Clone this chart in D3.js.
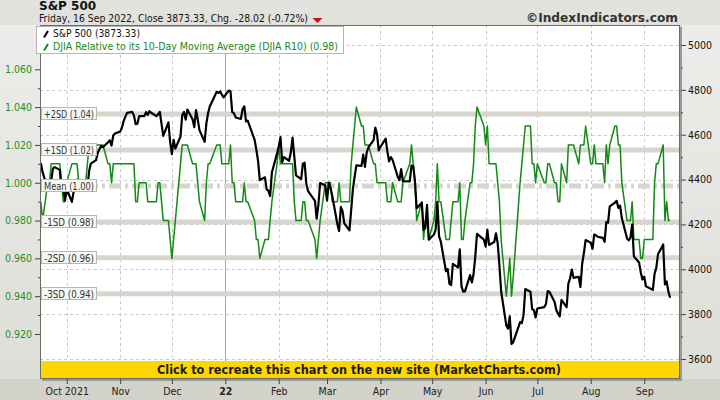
<!DOCTYPE html>
<html><head><meta charset="utf-8">
<script src="https://cdn.jsdelivr.net/npm/d3@7"></script>
<style>body{margin:0;background:#dcdcd6}svg{display:block}</style>
</head><body><svg id="c" width="720" height="400"></svg>
<script>
const dates = [
"2021-09-16","2021-09-17","2021-09-20","2021-09-21","2021-09-22","2021-09-23","2021-09-24","2021-09-27","2021-09-28","2021-09-29","2021-09-30",
"2021-10-01","2021-10-04","2021-10-05","2021-10-06","2021-10-07","2021-10-08","2021-10-11","2021-10-12","2021-10-13","2021-10-14","2021-10-15","2021-10-18","2021-10-19","2021-10-20","2021-10-21","2021-10-22","2021-10-25","2021-10-26","2021-10-27","2021-10-28","2021-10-29",
"2021-11-01","2021-11-02","2021-11-03","2021-11-04","2021-11-05","2021-11-08","2021-11-09","2021-11-10","2021-11-11","2021-11-12","2021-11-15","2021-11-16","2021-11-17","2021-11-18","2021-11-19","2021-11-22","2021-11-23","2021-11-24","2021-11-26","2021-11-29","2021-11-30",
"2021-12-01","2021-12-02","2021-12-03","2021-12-06","2021-12-07","2021-12-08","2021-12-09","2021-12-10","2021-12-13","2021-12-14","2021-12-15","2021-12-16","2021-12-17","2021-12-20","2021-12-21","2021-12-22","2021-12-23","2021-12-27","2021-12-28","2021-12-29","2021-12-30","2021-12-31",
"2022-01-03","2022-01-04","2022-01-05","2022-01-06","2022-01-07","2022-01-10","2022-01-11","2022-01-12","2022-01-13","2022-01-14","2022-01-18","2022-01-19","2022-01-20","2022-01-21","2022-01-24","2022-01-25","2022-01-26","2022-01-27","2022-01-28","2022-01-31",
"2022-02-01","2022-02-02","2022-02-03","2022-02-04","2022-02-07","2022-02-08","2022-02-09","2022-02-10","2022-02-11","2022-02-14","2022-02-15","2022-02-16","2022-02-17","2022-02-18","2022-02-22","2022-02-23","2022-02-24","2022-02-25","2022-02-28",
"2022-03-01","2022-03-02","2022-03-03","2022-03-04","2022-03-07","2022-03-08","2022-03-09","2022-03-10","2022-03-11","2022-03-14","2022-03-15","2022-03-16","2022-03-17","2022-03-18","2022-03-21","2022-03-22","2022-03-23","2022-03-24","2022-03-25","2022-03-28","2022-03-29","2022-03-30","2022-03-31",
"2022-04-01","2022-04-04","2022-04-05","2022-04-06","2022-04-07","2022-04-08","2022-04-11","2022-04-12","2022-04-13","2022-04-14","2022-04-18","2022-04-19","2022-04-20","2022-04-21","2022-04-22","2022-04-25","2022-04-26","2022-04-27","2022-04-28","2022-04-29",
"2022-05-02","2022-05-03","2022-05-04","2022-05-05","2022-05-06","2022-05-09","2022-05-10","2022-05-11","2022-05-12","2022-05-13","2022-05-16","2022-05-17","2022-05-18","2022-05-19","2022-05-20","2022-05-23","2022-05-24","2022-05-25","2022-05-26","2022-05-27","2022-05-31",
"2022-06-01","2022-06-02","2022-06-03","2022-06-06","2022-06-07","2022-06-08","2022-06-09","2022-06-10","2022-06-13","2022-06-14","2022-06-15","2022-06-16","2022-06-17","2022-06-21","2022-06-22","2022-06-23","2022-06-24","2022-06-27","2022-06-28","2022-06-29","2022-06-30",
"2022-07-01","2022-07-05","2022-07-06","2022-07-07","2022-07-08","2022-07-11","2022-07-12","2022-07-13","2022-07-14","2022-07-15","2022-07-18","2022-07-19","2022-07-20","2022-07-21","2022-07-22","2022-07-25","2022-07-26","2022-07-27","2022-07-28","2022-07-29",
"2022-08-01","2022-08-02","2022-08-03","2022-08-04","2022-08-05","2022-08-08","2022-08-09","2022-08-10","2022-08-11","2022-08-12","2022-08-15","2022-08-16","2022-08-17","2022-08-18","2022-08-19","2022-08-22","2022-08-23","2022-08-24","2022-08-25","2022-08-26","2022-08-29","2022-08-30","2022-08-31",
"2022-09-01","2022-09-02","2022-09-06","2022-09-07","2022-09-08","2022-09-09","2022-09-12","2022-09-13","2022-09-14","2022-09-15","2022-09-16"];

const spx = [
4473.75,4432.99,4357.73,4354.19,4395.64,4448.98,4455.48,4443.11,4352.63,4359.46,4307.54,
4357.04,4300.46,4345.72,4363.55,4399.76,4391.34,4361.19,4350.65,4363.80,4438.26,4471.37,4486.46,4519.63,4536.19,4549.78,4544.90,4566.48,4574.79,4551.68,4596.42,4605.38,
4613.67,4630.65,4660.57,4680.06,4697.53,4701.70,4685.25,4646.71,4649.27,4682.85,4682.80,4700.90,4688.67,4704.54,4697.96,4682.94,4690.70,4701.46,4594.62,4655.27,4567.00,
4513.04,4577.10,4538.43,4591.67,4686.75,4701.21,4667.45,4712.02,4668.97,4634.09,4709.85,4668.67,4620.64,4568.02,4649.23,4696.56,4725.79,4791.19,4786.35,4793.06,4778.73,4766.18,
4796.56,4793.54,4700.58,4696.05,4677.03,4670.29,4713.07,4726.35,4659.03,4662.85,4577.11,4532.76,4482.73,4397.94,4410.13,4356.45,4349.93,4326.51,4431.85,4515.55,
4546.54,4589.38,4477.44,4500.53,4483.87,4521.54,4587.18,4504.08,4418.64,4401.67,4471.07,4475.01,4380.26,4348.87,4304.76,4225.50,4288.70,4384.65,4373.94,
4306.26,4386.54,4363.49,4328.87,4201.09,4170.70,4277.88,4259.52,4204.31,4173.11,4262.45,4357.86,4411.67,4463.12,4461.18,4511.61,4456.24,4520.16,4543.06,4575.52,4631.60,4602.45,4530.41,
4545.86,4582.64,4525.12,4481.15,4500.21,4488.28,4412.53,4397.45,4446.59,4392.59,4391.69,4462.21,4459.45,4393.66,4271.78,4296.12,4175.20,4183.96,4287.50,4131.93,
4155.38,4175.48,4300.17,4146.87,4123.34,3991.24,4001.05,3935.18,3930.08,4023.89,4008.01,4088.85,3923.68,3900.79,3901.36,3973.75,3941.48,3978.73,4057.84,4158.24,4132.15,
4101.23,4176.82,4108.54,4121.43,4160.68,4115.77,4017.82,3900.86,3749.63,3735.48,3789.99,3666.77,3674.84,3764.79,3759.89,3795.73,3911.74,3900.11,3821.55,3818.83,3785.38,
3825.33,3831.39,3845.08,3902.62,3899.38,3854.43,3818.80,3801.78,3790.38,3863.16,3830.85,3936.69,3959.90,3998.95,3961.63,3966.84,3921.05,4023.61,4072.43,4130.29,
4118.63,4091.19,4155.17,4151.94,4145.19,4140.06,4122.47,4210.24,4207.27,4280.15,4297.14,4305.20,4274.04,4283.74,4228.48,4137.99,4128.73,4140.77,4199.12,4057.66,4030.61,3986.16,3955.00,
3966.85,3924.26,3908.19,3979.87,4006.18,4067.36,4110.41,3932.69,3946.01,3901.35,3873.33];

const r10 = [
0.99,0.98,1.00,1.00,1.01,1.01,1.01,1.01,1.00,0.99,0.99,
1.00,1.01,1.01,1.01,1.01,1.00,1.00,1.00,1.01,1.02,1.02,1.02,1.02,1.02,1.02,1.02,1.01,1.01,1.00,1.01,1.01,
1.01,1.01,1.01,1.01,1.01,1.01,1.01,0.99,0.99,1.00,1.00,1.00,0.99,0.99,0.99,0.99,1.00,1.00,0.98,0.98,0.97,
0.96,0.97,0.98,1.01,1.02,1.02,1.02,1.02,1.01,1.01,1.01,1.00,0.99,0.98,1.00,1.01,1.01,1.02,1.02,1.02,1.01,1.01,
1.01,1.02,1.00,1.00,0.99,0.99,0.99,1.00,0.99,0.99,0.98,0.97,0.97,0.96,0.97,0.97,0.97,0.98,0.99,1.01,
1.02,1.01,1.01,1.01,1.01,1.01,1.01,0.99,0.98,0.98,0.99,0.99,0.98,0.98,0.97,0.96,0.97,0.98,1.00,
1.00,1.00,1.00,0.99,0.99,1.00,0.99,0.99,0.99,0.99,1.01,1.02,1.03,1.04,1.03,1.03,1.02,1.02,1.02,1.01,1.01,1.00,1.00,
1.00,1.00,0.99,0.99,0.99,1.00,0.99,0.99,0.99,1.00,1.01,1.02,1.01,1.00,0.98,0.99,0.97,0.98,0.98,0.97,
0.98,0.99,1.01,0.99,0.99,0.97,0.97,0.97,0.98,0.99,0.99,1.00,0.97,0.97,0.98,1.00,1.00,1.01,1.03,1.04,1.03,
1.02,1.03,1.01,1.01,1.01,1.00,0.99,0.97,0.94,0.95,0.96,0.94,0.95,1.00,1.01,1.02,1.03,1.03,1.01,1.01,1.00,
1.01,1.00,1.00,1.01,1.01,1.00,1.00,0.99,0.99,1.01,1.00,1.02,1.02,1.02,1.02,1.01,1.02,1.02,1.02,1.03,
1.01,1.01,1.02,1.01,1.01,1.01,1.00,1.02,1.01,1.02,1.03,1.03,1.02,1.02,1.00,0.98,0.98,0.98,0.99,0.97,0.97,0.96,0.96,
0.97,0.97,0.97,1.00,1.01,1.01,1.02,0.98,0.99,0.98,0.98];

const monthTicks = ["2021-10-01","2021-11-01","2021-12-01","2022-01-01","2022-02-01","2022-03-01","2022-04-01","2022-05-01","2022-06-01","2022-07-01","2022-08-01","2022-09-01"];
const monthLabels = ["Oct 2021","Nov","Dec","22","Feb","Mar","Apr","May","Jun","Jul","Aug","Sep"];
const leftTicks = [0.92,0.94,0.96,0.98,1.00,1.02,1.04,1.06];
const leftMinor = [0.93,0.95,0.97,0.99,1.01,1.03,1.05];
const rightTicks = [3600,3800,4000,4200,4400,4600,4800,5000];
const rightMinor = [3700,3900,4100,4300,4500,4700,4900];
const sdLabels = ["+2SD (1.04)","+1SD (1.02)","Mean (1.00)","-1SD (0.98)","-2SD (0.96)","-3SD (0.94)"];
const sdValues = [1.0363,1.0173,0.9983,0.9793,0.9603,0.9413];
const titleText = "S&P 500";
const subtitleText = "Friday, 16 Sep 2022, Close 3873.33, Chg. -28.02 (-0.72%)";
const legendLabels = ["S&P 500 (3873.33)","DJIA Relative to its 10-Day Moving Average (DJIA R10) (0.98)"];

const parse = d3.timeParse("%Y-%m-%d");
const pts = dates.map((d,i)=>({t:parse(d), p:spx[i], r:r10[i]}));

const W=720,H=400, L=40,R=680,T=25,B=379;
const FONT = "'DejaVu Sans Condensed','DejaVu Sans',sans-serif";
const svg = d3.select("#c");
const defs = svg.append("defs");
const bg = defs.append("linearGradient").attr("id","bg").attr("x1",0).attr("y1",0).attr("x2",0).attr("y2",1);
bg.append("stop").attr("offset","0%").attr("stop-color","#e2e2de");
bg.append("stop").attr("offset","100%").attr("stop-color","#d2d2ca");
const side = defs.append("linearGradient").attr("id","side").attr("x1",0).attr("y1",0).attr("x2",0).attr("y2",1);
side.append("stop").attr("offset","0%").attr("stop-color","#ececea");
side.append("stop").attr("offset","100%").attr("stop-color","#deded8");
defs.append("clipPath").attr("id","clip").append("rect").attr("x",L).attr("y",T).attr("width",R-L).attr("height",B-T);

svg.append("rect").attr("width",W).attr("height",H).attr("fill","url(#bg)");
svg.append("rect").attr("x",0).attr("y",T).attr("width",L).attr("height",B-T).attr("fill","url(#side)");
svg.append("rect").attr("x",R+2).attr("y",T).attr("width",W-R-2).attr("height",B-T).attr("fill","url(#side)");

const x = d3.scaleTime().domain([new Date(2021,8,15,12), new Date(2022,8,21,18)]).range([L,R]);
const yL = d3.scaleLinear().domain([0.92,1.06]).range([334,69.3]);
const yR = d3.scaleLinear().domain([3600,5000]).range([359,45]);

// shadow + plot bg
svg.append("rect").attr("x",L+2).attr("y",T+2).attr("width",R-L).attr("height",B-T).attr("fill","#9a9a96");
svg.append("rect").attr("x",L).attr("y",T).attr("width",R-L).attr("height",B-T).attr("fill","#fff");

const plot = svg.append("g").attr("clip-path","url(#clip)");
// grid
plot.selectAll(".hg").data(rightTicks).join("line")
  .attr("x1",L).attr("x2",R).attr("y1",d=>Math.round(yR(d))+0.5).attr("y2",d=>Math.round(yR(d))+0.5)
  .attr("stroke","#c9c9c9").attr("stroke-dasharray","3,3");
plot.selectAll(".vg").data(monthTicks.map(parse)).join("line")
  .attr("x1",d=>Math.round(x(d))+0.5).attr("x2",d=>Math.round(x(d))+0.5).attr("y1",T).attr("y2",B)
  .attr("stroke",(d,i)=>monthLabels[i]==="22"?"#a8a8a8":"#c9c9c9")
  .attr("stroke-dasharray",(d,i)=>monthLabels[i]==="22"?null:"3,3");
// SD bands
plot.selectAll(".sd").data(sdValues).join("line")
  .attr("x1",L).attr("x2",R).attr("y1",d=>yL(d)).attr("y2",d=>yL(d))
  .attr("stroke","#d6d6ce").attr("stroke-width",5)
  .attr("stroke-dasharray",(d,i)=>sdLabels[i].startsWith("Mean")?"12,4,3,4":null);

// series
plot.append("path").datum(pts).attr("fill","none").attr("stroke","#138a13").attr("stroke-width",1.5)
  .attr("stroke-linejoin","round")
  .attr("d",d3.line().x(d=>x(d.t)).y(d=>yL(d.r)));
plot.append("path").datum(pts).attr("fill","none").attr("stroke","#000").attr("stroke-width",2.2)
  .attr("stroke-linejoin","round")
  .attr("d",d3.line().x(d=>x(d.t)).y(d=>yR(d.p)));

// SD labels
const sdg = svg.append("g");
sdValues.forEach((v,i)=>{
  const y = yL(v);
  sdg.append("rect").attr("x",41.5).attr("y",Math.round(y)-6.5).attr("width",55).attr("height",12)
    .attr("fill","#f7f7f4").attr("stroke","#b8b8b0");
  sdg.append("text").attr("x",44).attr("y",Math.round(y)+3.5).attr("font-family",FONT).attr("font-size",10)
    .attr("fill","#333").attr("textLength",50).attr("lengthAdjust","spacingAndGlyphs").text(sdLabels[i]);
});

// banner
svg.append("rect").attr("x",L+1).attr("y",361).attr("width",R-L-1).attr("height",B-361).attr("fill","#ffd700");
svg.append("text").attr("x",157).attr("y",373.5).attr("font-family","'DejaVu Sans',sans-serif").attr("font-weight","bold")
  .attr("font-size",12).attr("fill","#1a1a1a").attr("textLength",404).attr("lengthAdjust","spacingAndGlyphs")
  .text("Click to recreate this chart on the new site (MarketCharts.com)");

// plot border
svg.append("rect").attr("x",L+0.5).attr("y",T+0.5).attr("width",R-L-1).attr("height",B-T-1)
  .attr("fill","none").attr("stroke","#6a6a6a");

// axes
const styleAxis = g=>{ g.select(".domain").remove(); g.selectAll("line").attr("stroke","#444"); g.selectAll("text").attr("font-family",FONT).attr("font-size",10.5); };
svg.append("g").attr("transform",`translate(${L},0)`)
  .call(d3.axisLeft(yL).tickValues(leftTicks).tickFormat(d3.format(".3f")).tickSize(5).tickPadding(3))
  .call(styleAxis).call(g=>g.selectAll("text").attr("fill","#1f8f1f"));
svg.append("g").attr("transform",`translate(${L},0)`)
  .call(d3.axisLeft(yL).tickValues(leftMinor).tickFormat("").tickSize(2)).call(styleAxis);
svg.append("g").attr("transform",`translate(${R+1},0)`)
  .call(d3.axisRight(yR).tickValues(rightTicks).tickFormat(d3.format("d")).tickSize(5).tickPadding(2))
  .call(styleAxis).call(g=>g.selectAll("text").attr("fill","#111"));
svg.append("g").attr("transform",`translate(${R+1},0)`)
  .call(d3.axisRight(yR).tickValues(rightMinor).tickFormat("").tickSize(2)).call(styleAxis);
svg.append("g").attr("transform",`translate(0,${B})`)
  .call(d3.axisBottom(x).tickValues(monthTicks.map(parse)).tickFormat((d,i)=>monthLabels[i]).tickSize(5).tickPadding(4))
  .call(styleAxis).call(g=>g.selectAll("text").attr("fill","#222").attr("font-weight",(d,i)=>monthLabels[i]==="22"?"bold":null));

// header
svg.append("text").attr("x",39).attr("y",9.8).attr("font-family","'DejaVu Sans',sans-serif").attr("font-weight","bold")
  .attr("font-size",12).attr("fill","#111").text(titleText);
svg.append("text").attr("x",39).attr("y",22).attr("font-family",FONT).attr("font-size",10)
  .attr("fill","#111").attr("textLength",269).attr("lengthAdjust","spacingAndGlyphs").text(subtitleText);
svg.append("path").attr("d","M312.5,18 L322.5,18 L317.5,23 Z").attr("fill","#cc1111");
svg.append("text").attr("x",678).attr("y",21.5).attr("text-anchor","end").attr("font-family","'DejaVu Sans',sans-serif")
  .attr("font-weight","bold").attr("font-size",12).attr("fill","#333").attr("textLength",152).attr("lengthAdjust","spacingAndGlyphs")
  .text("©IndexIndicators.com");

// legend
svg.append("rect").attr("x",36.5).attr("y",26.5).attr("width",307).attr("height",27).attr("fill","#fff").attr("stroke","#b4b4b4");
svg.append("line").attr("x1",44).attr("y1",37.5).attr("x2",48).attr("y2",31).attr("stroke","#000").attr("stroke-width",2);
svg.append("line").attr("x1",44).attr("y1",50.5).attr("x2",48).attr("y2",44).attr("stroke","#138a13").attr("stroke-width",2);
svg.append("text").attr("x",53).attr("y",37).attr("font-family",FONT).attr("font-size",10.5).attr("fill","#111")
  .attr("textLength",87).attr("lengthAdjust","spacingAndGlyphs").text(legendLabels[0]);
svg.append("text").attr("x",53).attr("y",49.5).attr("font-family",FONT).attr("font-size",10.5).attr("fill","#138a13")
  .attr("textLength",285).attr("lengthAdjust","spacingAndGlyphs").text(legendLabels[1]);
</script></body></html>
